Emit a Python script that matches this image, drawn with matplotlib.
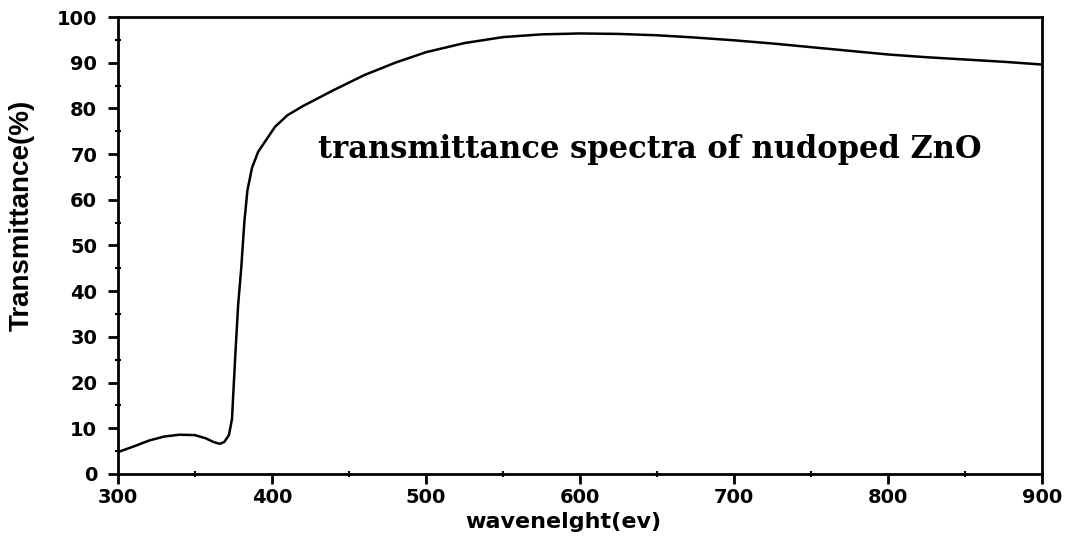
import matplotlib
matplotlib.use("Agg")
import matplotlib.pyplot as plt
from matplotlib.ticker import MultipleLocator

wavelength = [300, 310, 320, 330, 340, 350, 357, 362, 366, 369, 372, 374, 376, 378,
              380, 382, 384, 387, 391, 396, 402, 410, 420, 440, 460, 480, 500, 525,
              550, 575, 600, 625, 650, 675, 700, 725, 750, 775, 800, 825, 850, 875, 900]
transmittance = [4.8, 6.0, 7.3, 8.2, 8.6, 8.5, 7.8, 7.0, 6.6, 7.0, 8.5, 12, 25, 37,
                 45, 55, 62, 67, 70.5, 73, 76, 78.5, 80.5, 84, 87.3, 90, 92.3, 94.3,
                 95.6, 96.2, 96.4, 96.3, 96.0, 95.5, 94.9, 94.2, 93.4, 92.6, 91.8, 91.2,
                 90.7, 90.2, 89.6]
annotation = "transmittance spectra of nudoped ZnO"
xlabel = "wavenelght(ev)"
ylabel = "Transmittance(%)"

fig = plt.figure(figsize=(10.68, 5.45), dpi=100)
ax = fig.add_axes([0.1105, 0.1303, 0.8652, 0.8385])
ax.plot(wavelength, transmittance, color="black", lw=1.8)
ax.set_xlim(300, 900)
ax.set_ylim(0, 100)
ax.xaxis.set_major_locator(MultipleLocator(100))
ax.xaxis.set_minor_locator(MultipleLocator(50))
ax.yaxis.set_major_locator(MultipleLocator(10))
ax.yaxis.set_minor_locator(MultipleLocator(5))
for s in ax.spines.values():
    s.set_linewidth(2)
ax.tick_params(which="major", direction="out", length=7, width=2, labelsize=14)
ax.tick_params(axis="y", which="major", pad=8)
ax.tick_params(axis="x", which="major", pad=3)
ax.tick_params(which="minor", direction="inout", length=4, width=1.5)
ax.tick_params(top=False, right=False, which="both")
for lab in ax.get_xticklabels() + ax.get_yticklabels():
    lab.set_fontfamily("DejaVu Sans")
    lab.set_fontweight("bold")
ax.set_xlabel(xlabel, fontsize=16, fontfamily="DejaVu Sans", fontweight="bold")
ax.set_ylabel(ylabel, fontsize=20, fontfamily="Liberation Sans", fontweight="bold")
ax.xaxis.set_label_coords(0.482, -0.083)
ax.yaxis.set_label_coords(-0.09, 0.567)
ax.text(430, 70.9, annotation, fontsize=22, fontfamily="DejaVu Serif",
        fontweight="bold", va="center", ha="left")
fig.savefig("out.png", dpi=100)
